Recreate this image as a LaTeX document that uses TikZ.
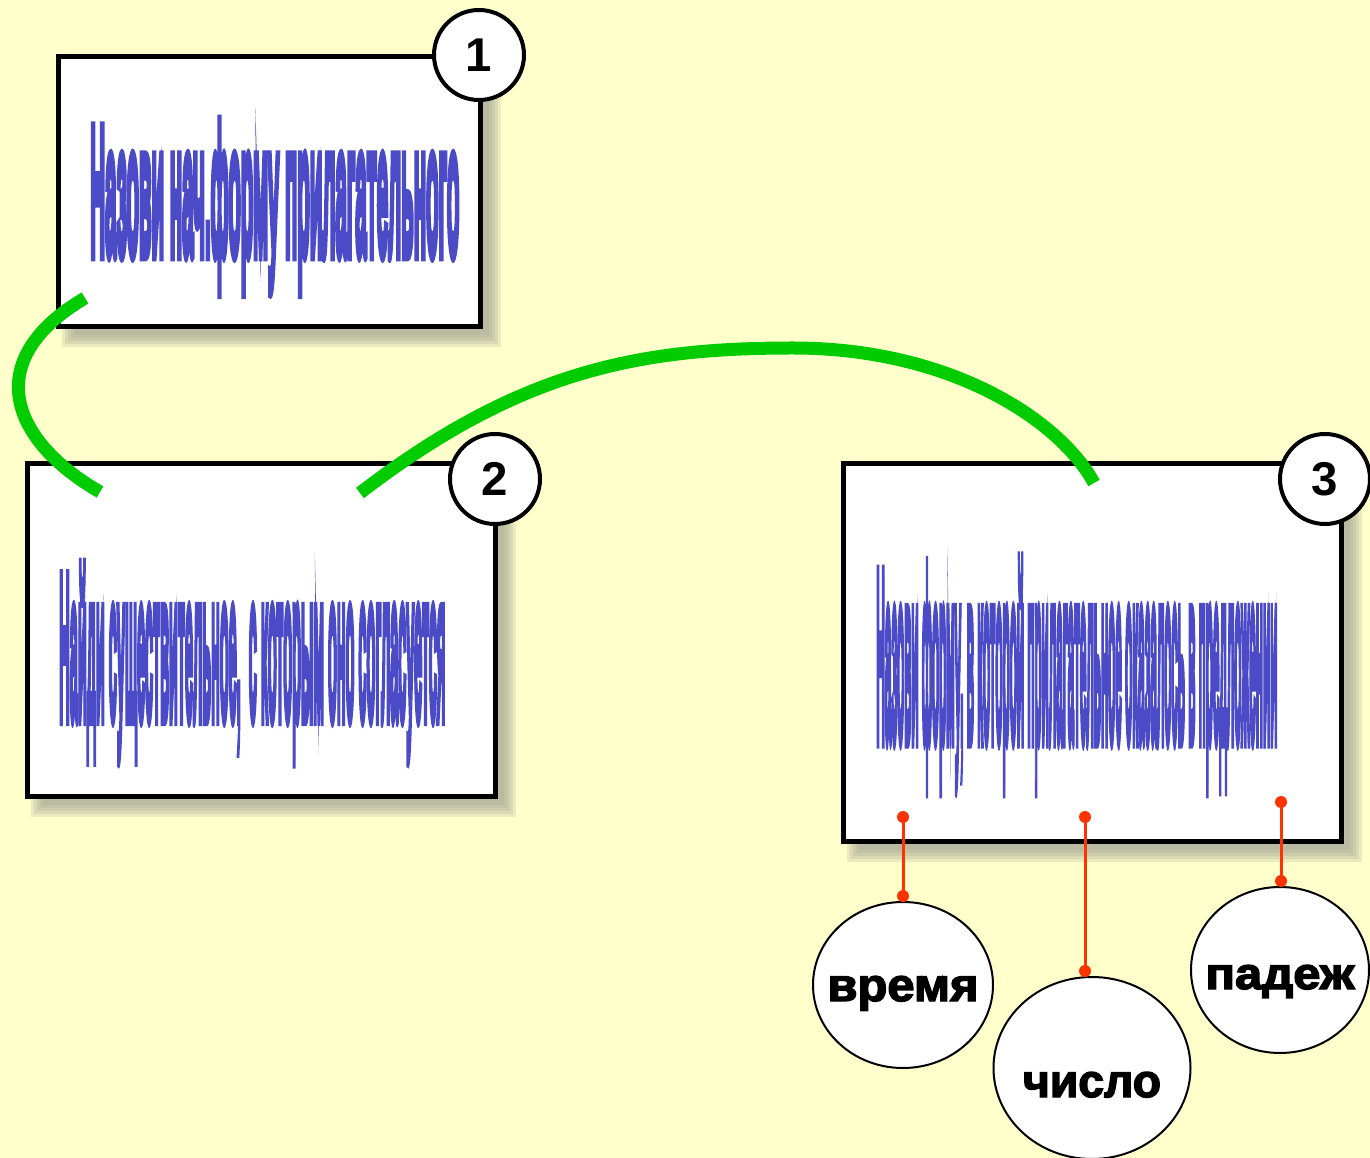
\documentclass[tikz,border=0pt]{standalone}
\usepackage{fontspec}
\setmainfont{Liberation Sans}
\newfontfamily\wordfont[FakeBold=8]{Liberation Sans}
\newfontfamily\ballfont[FakeBold=3]{Liberation Sans}
\usetikzlibrary{shapes.geometric}

\newlength\pxu
\setlength\pxu{0.02cm}

\definecolor{bgyellow}{HTML}{FFFFCC}
\definecolor{taskblue}{HTML}{4B4BC8}
\definecolor{linkgreen}{HTML}{00CC00}
\definecolor{pinred}{HTML}{FF3300}
\definecolor{shadowgrey}{HTML}{A0A090}

\pgfdeclarelayer{bg}
\pgfsetlayers{bg,main}

\tikzset{
	taskbox/.style={rectangle, draw=black, line width=5\pxu, fill=white, inner sep=0pt},
	tasktext/.style={anchor=base west, inner sep=0pt, text=taskblue, font=\wordfont\bfseries},
	numcircle/.style={circle, draw=black, line width=4\pxu, fill=white, minimum size=90\pxu, inner sep=0pt, font=\fontsize{27}{27}\selectfont\bfseries},
	caseball/.style={ellipse, draw=black, line width=2\pxu, fill=white, inner sep=0pt, font=\ballfont\bfseries},
	link/.style={draw=linkgreen, line width=13\pxu},
	pin/.style={draw=pinred, line width=3\pxu},
	pinhead/.style={fill=pinred},
}
\newcommand{\balltext}[4]{\makebox[0pt]{\raisebox{-#1\pxu}[0pt][0pt]{\resizebox{#2\pxu}{#3\pxu}{#4}}}}

\begin{document}
\begin{tikzpicture}[x=0.02cm, y=-0.02cm]
	\useasboundingbox (0,0) rectangle (1370,1158);
	\begin{pgfonlayer}{bg}
		\fill[bgyellow] (0,0) rectangle (1370,1158);
	\end{pgfonlayer}

	\begin{scope}[every node/.style={taskbox}]
		\node[minimum width=422\pxu, minimum height=270\pxu] (box1) at (269,192) {};
		\node[minimum width=468\pxu, minimum height=332\pxu] (box2) at (261,630) {};
		\node[minimum width=498\pxu, minimum height=377\pxu] (box3) at (1092,652.5) {};
	\end{scope}

	\begin{pgfonlayer}{bg}
		\foreach \bx in {box1,box2,box3}
			\foreach \d in {6,3,0,-3,-6}
				\fill[shadowgrey, opacity=0.22] ([shift={(12+\d,12+\d)}]\bx.north west) rectangle ([shift={(12-\d,12-\d)}]\bx.south east);
	\end{pgfonlayer}

	\begin{scope}[every node/.style={tasktext}]
		\node (task1) at (90,254) {\resizebox{369\pxu}{132\pxu}{Назови нач.форму прилагательного}};
		\node (task2) at (59,718) {\resizebox{386\pxu}{152\pxu}{Найди существительное,~ с которым оно согласуется}};
		\node (task3) at (876,739) {\resizebox{401\pxu}{178\pxu}{Назови форму, в которой прилагательное оказалось в предложении}};
	\end{scope}

	\begin{scope}[every node/.style={caseball}]
		\node[minimum width=180\pxu, minimum height=166\pxu] (vremya) at (903,985) {\balltext{16}{151}{25}{время}};
		\node[minimum width=197\pxu, minimum height=182\pxu] (chislo) at (1092,1068) {\balltext{29}{138}{25}{число}};
		\node[minimum width=178\pxu, minimum height=166\pxu] (padezh) at (1280,970) {\balltext{19}{149}{24}{падеж}};
	\end{scope}

	\coordinate (vtop) at (903,817);
	\coordinate (ctop) at (1085,817);
	\coordinate (ptop) at (1281,802);
	\coordinate (vend) at (vtop |- vremya.north);
	\coordinate (cend) at (ctop |- chislo.north);
	\coordinate (pend) at (ptop |- padezh.north);
	\foreach \a/\b in {vtop/vend,ctop/cend,ptop/pend} {
		\draw[pin] (\a) -- ([yshift=5\pxu]\b);
		\fill[pinhead] (\a) circle (6);
		\fill[pinhead] ([yshift=5\pxu]\b) circle (6);
	}

	\begin{scope}[every node/.style={numcircle}]
		\node (num1) at (479,55) {1};
		\node (num2) at (495,479) {2};
		\node (num3) at (1325,479) {3};
	\end{scope}

	\coordinate (l1a) at (85,298);
	\coordinate (l1b) at (100,492);
	\coordinate (l2a) at (360,493);
	\coordinate (l2b) at (1094,483);
	\draw[link] (l1a) .. controls (-20,360) and (10,440) .. (l1b);
	\draw[link] (l2a) .. controls (520,370) and (640,348) .. (793,348) .. controls (950,348) and (1060,420) .. (l2b);
\end{tikzpicture}
\end{document}
